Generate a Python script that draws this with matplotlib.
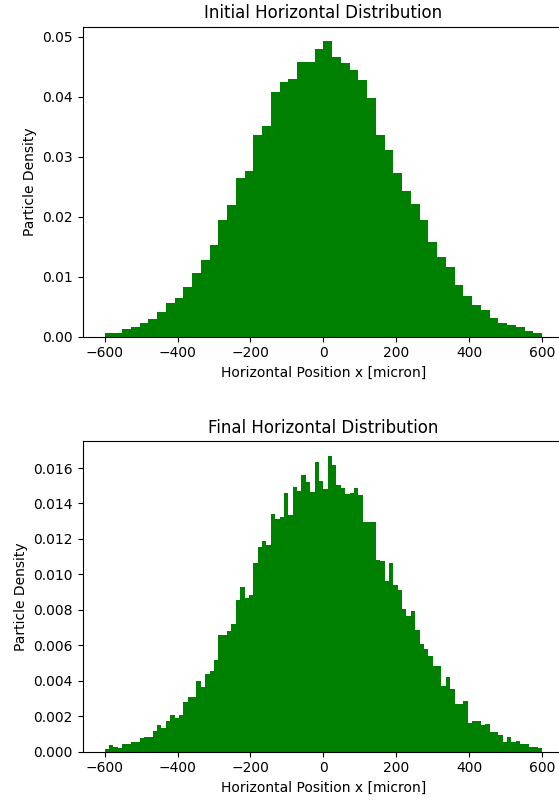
import numpy as np
import matplotlib
matplotlib.use("Agg")
import matplotlib.pyplot as plt

# Initial distribution: 50 bins from -600 to 600
initial_edges_range = (-600, 600)
initial_density = [
    0.00066, 0.00066, 0.00122, 0.00156, 0.00222, 0.00294, 0.0041, 0.00554, 0.00653, 0.00836,
    0.01068, 0.01272, 0.01521, 0.01952, 0.02196, 0.02643, 0.0276, 0.03357, 0.03516, 0.0407,
    0.04252, 0.04302, 0.04584, 0.04584, 0.04793, 0.0492, 0.04655, 0.04567, 0.04444, 0.04279,
    0.0397, 0.03357, 0.03113, 0.02736, 0.02433, 0.02217, 0.01947, 0.01575, 0.01333, 0.01156,
    0.00857, 0.0067, 0.00531, 0.00438, 0.00315, 0.00222, 0.00194, 0.00156, 0.001, 0.00056,
]

# Final distribution: 100 bins from -600 to 600
final_edges_range = (-600, 600)
final_density = [
    0.00015, 0.00038, 0.00028, 0.00019, 0.00043, 0.00043, 0.00056, 0.00056, 0.00075, 0.00084,
    0.00084, 0.00116, 0.00148, 0.00132, 0.00173, 0.00205, 0.00188, 0.00205, 0.00281, 0.00309,
    0.00309, 0.0040, 0.00366, 0.00437, 0.00456, 0.0052, 0.00657, 0.00657, 0.00679, 0.00722,
    0.00857, 0.00928, 0.00867, 0.00882, 0.01066, 0.01153, 0.01187, 0.01167, 0.01341, 0.01311,
    0.01322, 0.01461, 0.01333, 0.01495, 0.01472, 0.01558, 0.01519, 0.01463, 0.01632, 0.01529,
    0.01482, 0.01669, 0.01617, 0.01504, 0.01487, 0.01454, 0.01457, 0.01485, 0.01448, 0.01296,
    0.01296, 0.01296, 0.01084, 0.01075, 0.00962, 0.01066, 0.00938, 0.00914, 0.00807, 0.00763,
    0.00793, 0.00689, 0.0061, 0.00582, 0.0054, 0.00486, 0.00486, 0.00371, 0.00422, 0.00351,
    0.00268, 0.00268, 0.00284, 0.00163, 0.00173, 0.00173, 0.0015, 0.00156, 0.00109, 0.00109,
    0.00094, 0.00053, 0.00084, 0.00053, 0.0006, 0.00043, 0.00043, 0.00028, 0.00028, 0.00019,
]

titles = ["Initial Horizontal Distribution", "Final Horizontal Distribution"]
xlabel = "Horizontal Position x [micron]"
ylabel = "Particle Density"

W, H = 559, 801
dpi = 100
fig = plt.figure(figsize=(W / dpi, H / dpi), dpi=dpi)

left = 82.7 / W
width = 481.3 / W
ax1 = fig.add_axes([left, (H - 336.7) / H, width, (336.7 - 26.7) / H])
ax2 = fig.add_axes([left, (H - 751.7) / H, width, (751.7 - 441.0) / H])

for ax, dens, rng, title in [
    (ax1, initial_density, initial_edges_range, titles[0]),
    (ax2, final_density, final_edges_range, titles[1]),
]:
    n = len(dens)
    edges = np.linspace(rng[0], rng[1], n + 1)
    centers = 0.5 * (edges[:-1] + edges[1:])
    w = edges[1] - edges[0]
    ax.bar(centers, dens, width=w, color="green", linewidth=0)
    ax.set_title(title)
    ax.set_xlabel(xlabel)
    ax.set_ylabel(ylabel)
    ax.set_xticks([-600, -400, -200, 0, 200, 400, 600])

ax2.set_yticks(np.arange(0, 0.0161, 0.002))

fig.savefig("out.png", dpi=dpi)
